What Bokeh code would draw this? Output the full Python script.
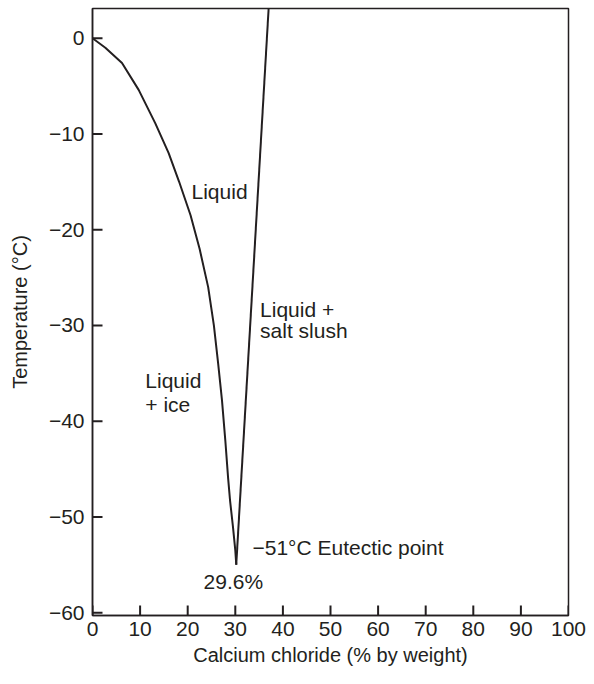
from bokeh.plotting import figure
from bokeh.models import Range1d, FixedTicker, ColumnDataSource
from bokeh.embed import file_html
from bokeh.resources import INLINE
from bokeh.core.properties import value

# Data
ice_x = [0, 2.7, 6.2, 9.7, 13.2, 16.0, 18.2, 20.6, 22.5, 24.3, 25.5, 26.4, 27.2, 27.9, 28.5, 28.9, 29.5, 30.0, 30.2]
ice_y = [0, -1.0, -2.6, -5.4, -8.9, -12.0, -15.0, -18.5, -22.0, -26.0, -30.0, -34.0, -37.8, -42.0, -46.0, -48.3, -51.0, -53.5, -55.0]
salt_x = [30.2, 37.0]
salt_y = [-55.0, 3.1]

x_min, x_max = 0, 100
y_min, y_max = -60.3, 3.1

x_ticks = [0, 10, 20, 30, 40, 50, 60, 70, 80, 90, 100]
y_ticks = [0, -10, -20, -30, -40, -50, -60]
y_tick_labels = ["0", "\u221210", "\u221220", "\u221230", "\u221240", "\u221250", "\u221260"]

label_text = ["Liquid", "Liquid +", "salt slush", "Liquid", "+ ice", "\u221251\u00b0C Eutectic point"]
label_x = [20.8, 35.2, 35.2, 11.1, 11.1, 33.6]
label_y = [-16.0, -28.3, -30.5, -35.8, -38.3, -53.2]
pct_text = ["29.6%"]
pct_x = [29.6]
pct_y = [-56.8]

FONT = "Liberation Sans"
INK = "#231f20"
FS = "21px"

FW, FH = 476, 607
TICK_PX = 10

p = figure(frame_width=FW, frame_height=FH, output_backend="svg", toolbar_location=None,
           x_range=Range1d(x_min, x_max), y_range=Range1d(y_min, y_max),
           min_border_left=92, min_border_top=8, min_border_right=22, min_border_bottom=56)

p.line(ice_x, ice_y, line_color=INK, line_width=2)
p.line(salt_x, salt_y, line_color=INK, line_width=2)

# inward tick marks drawn as short polylines
dy = TICK_PX * (y_max - y_min) / FH
dx = TICK_PX * (x_max - x_min) / FW
tick_xs = [[t, t] for t in x_ticks] + [[x_min, x_min + dx] for t in y_ticks]
tick_ys = [[y_min, y_min + dy] for t in x_ticks] + [[t, t] for t in y_ticks]
p.multi_line(xs=tick_xs, ys=tick_ys, line_color=INK, line_width=2)

src = ColumnDataSource(dict(x=label_x, y=label_y, t=label_text))
p.text(x="x", y="y", text="t", source=src, text_font=value(FONT), text_font_size=FS,
       text_color=INK, text_align="left", text_baseline="middle")
src2 = ColumnDataSource(dict(x=pct_x, y=pct_y, t=pct_text))
p.text(x="x", y="y", text="t", source=src2, text_font=value(FONT), text_font_size=FS,
       text_color=INK, text_align="center", text_baseline="middle")

p.xgrid.visible = False
p.ygrid.visible = False
p.outline_line_color = INK
p.outline_line_width = 1.5

for ax in (p.xaxis[0], p.yaxis[0]):
    ax.major_tick_in = 0
    ax.major_tick_out = 0
    ax.minor_tick_line_color = None
    ax.axis_line_color = INK
    ax.axis_line_width = 1.5
    ax.major_label_text_font = FONT
    ax.major_label_text_font_size = FS
    ax.major_label_text_color = INK
    ax.axis_label_text_font = FONT
    ax.axis_label_text_font_size = "20px"
    ax.axis_label_text_color = INK
    ax.axis_label_text_font_style = "normal"

p.xaxis.ticker = FixedTicker(ticks=x_ticks)
p.yaxis.ticker = FixedTicker(ticks=y_ticks)
p.yaxis.major_label_overrides = {t: l for t, l in zip(y_ticks, y_tick_labels)}
p.xaxis.axis_label = "Calcium chloride (% by weight)"
p.yaxis.axis_label = "Temperature (\u00b0C)"
p.xaxis.major_label_standoff = 6
p.yaxis.major_label_standoff = 8
p.xaxis.axis_label_standoff = 5
p.yaxis.axis_label_standoff = 15

open("out.html", "w").write(file_html(p, INLINE))
